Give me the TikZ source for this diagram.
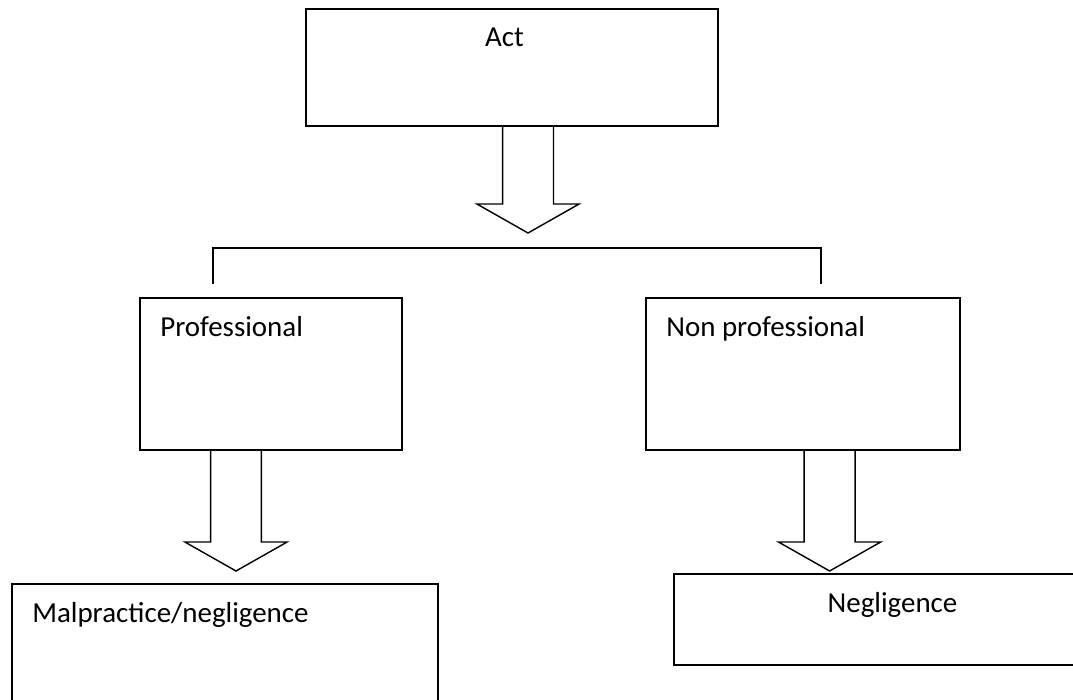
\documentclass[tikz,border=0pt]{standalone}
\usepackage{fontspec}
\setmainfont{Carlito}
\usetikzlibrary{positioning,calc}

% hollow block arrow from the bottom of a box down to a tip
\newcommand{\fatarrow}[2]{%
  \draw[fat] let \p1=(#1.south -| #2), \p2=(#2) in
    (\x1-18.1pt,\y1) -- (\x1-18.1pt,\y2+20.6pt) -- (\x1-36.3pt,\y2+20.6pt) -- (\p2)
    -- (\x1+36.3pt,\y2+20.6pt) -- (\x1+18.1pt,\y2+20.6pt) -- (\x1+18.1pt,\y1);}

\begin{document}
\begin{tikzpicture}[box/.style={draw,line width=1.4pt,inner sep=0,anchor=north west},
  txt/.style={font=\fontsize{20.6}{24}\selectfont,inner sep=0},
  fat/.style={line width=1pt,line join=miter},
  joint/.style={line width=1pt}]
   \useasboundingbox (0,0) rectangle (26.825,-17.5);
   \fill[white] (0,0) rectangle (26.825,-17.5);
   \clip (0,0) rectangle (26.825,-17.5);
   \node[box,minimum width=10.3cm,minimum height=2.925cm] (act) at (7.625,-0.2) {};
   \node[box,minimum width=6.55cm,minimum height=3.8cm] (prof) at (3.475,-7.425) {};
   \node[box,minimum width=7.85cm,minimum height=3.8cm] (nonprof) at (16.125,-7.425) {};
   \node[box,minimum width=10.65cm,minimum height=3.5cm] (malp) at (0.275,-14.575) {};
   \node[box,minimum width=10.925cm,minimum height=2.275cm] (negl) at (16.825,-14.325) {};
   \node[txt,below=0.975cm of act.north,anchor=base,xshift=-0.19cm] (act_t) {Act};
   \node[txt,below right=0.975cm and 0.525cm of prof.north west,anchor=base west] (prof_t) {Professional};
   \node[txt,below right=0.975cm and 0.525cm of nonprof.north west,anchor=base west] (nonprof_t) {Non professional};
   \node[txt,below right=0.975cm and 0.525cm of malp.north west,anchor=base west] (malp_t) {Malpractice/negligence};
   \node[txt,below=0.975cm of negl.north,anchor=base] (negl_t) {Negligence};
   \coordinate (a1) at (13.2,-5.825);
   \coordinate (a2) at (5.9,-14.275);
   \coordinate (a3) at (20.74,-14.275);
   \coordinate (jl) at (5.325,-7.1);
   \coordinate (jr) at (20.525,-7.1);
   \fatarrow{act}{a1}
   \fatarrow{prof}{a2}
   \fatarrow{nonprof}{a3}
   \draw[joint] (jl) -- ++(0,0.9) -| (jr);
\end{tikzpicture}
\end{document}
